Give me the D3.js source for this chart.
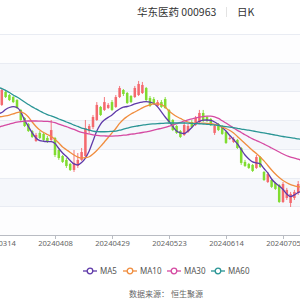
<!DOCTYPE html>
<html>
<head>
<meta charset="utf-8">
<script src="https://cdn.jsdelivr.net/npm/d3@7"></script>
<style>
  body { margin: 0; background: #fff; }
  svg { display: block; font-family: "Noto Sans CJK SC", "Noto Sans", sans-serif; }
</style>
</head>
<body>
<div id="chart"></div>
<script>
// trading days shown (the window is cut on both sides)
const dates = [
  "20240311","20240312","20240313","20240314","20240315","20240318","20240319","20240320","20240321","20240322",
  "20240325","20240326","20240327","20240328","20240329","20240401","20240402","20240403","20240408","20240409",
  "20240410","20240411","20240412","20240415","20240416","20240417","20240418","20240419","20240422","20240423",
  "20240424","20240425","20240426","20240429","20240430","20240506","20240507","20240508","20240509","20240510",
  "20240513","20240514","20240515","20240516","20240517","20240520","20240521","20240522","20240523","20240524",
  "20240527","20240528","20240529","20240530","20240531","20240603","20240604","20240605","20240606","20240607",
  "20240611","20240612","20240613","20240614","20240617","20240618","20240619","20240620","20240621","20240624",
  "20240625","20240626","20240627","20240628","20240701","20240702","20240703","20240704","20240705","20240708",
  "20240709","20240710","20240711","20240712"
];

const opens = [
  32.57, 32.85, 33.13, 33.68, 33.06, 33.96, 33.75, 33.61, 33.40, 32.71,
  32.15, 31.73, 31.24, 30.55, 31.11, 31.04, 30.76, 30.62, 30.76, 29.92,
  29.50, 29.23, 28.95, 28.53, 28.81, 29.23, 29.50, 31.24, 31.52, 32.01,
  32.92, 32.71, 32.85, 33.26, 32.92, 33.61, 34.10, 33.89, 33.68, 33.61,
  33.75, 33.89, 34.24, 33.54, 33.47, 32.99, 33.26, 33.47, 32.71, 32.01,
  31.59, 31.24, 30.97, 31.18, 31.87, 31.66, 31.87, 32.50, 32.22, 32.08,
  31.11, 31.73, 31.59, 31.18, 30.69, 30.48, 30.62, 30.06, 29.09, 28.95,
  28.88, 28.67, 29.43, 28.39, 27.69, 27.83, 27.62, 27.48, 26.30, 26.58,
  26.23, 26.58, 26.93, 27.41
];
const closes = [
  32.85, 33.13, 33.40, 33.96, 34.10, 33.61, 33.40, 33.26, 32.85, 32.01,
  31.59, 31.24, 30.83, 30.97, 30.76, 30.62, 30.48, 31.31, 29.57, 29.36,
  29.09, 28.81, 28.53, 29.02, 29.23, 29.78, 31.45, 31.59, 32.22, 33.06,
  32.36, 33.26, 33.06, 32.71, 33.61, 34.24, 33.82, 33.19, 33.26, 34.24,
  34.52, 34.45, 33.40, 32.99, 33.13, 33.26, 32.92, 32.85, 31.87, 31.31,
  31.11, 30.83, 31.66, 31.59, 31.52, 32.15, 32.50, 31.94, 31.94, 31.66,
  31.59, 31.31, 31.04, 30.41, 30.76, 30.69, 30.06, 29.02, 28.81, 28.67,
  28.46, 29.43, 28.74, 27.83, 28.25, 27.35, 27.21, 26.30, 27.55, 27.14,
  26.86, 27.00, 27.55, 27.69
];
const highs = [
  32.99, 33.26, 33.54, 34.10, 34.24, 34.10, 33.82, 33.68, 33.47, 32.78,
  32.22, 31.80, 31.31, 31.11, 31.24, 31.18, 30.90, 32.01, 30.83, 30.06,
  29.57, 29.36, 29.02, 29.92, 29.71, 30.06, 32.01, 31.73, 32.36, 33.26,
  32.99, 33.61, 33.19, 33.40, 33.75, 34.38, 34.17, 33.96, 33.75, 34.38,
  34.73, 34.66, 34.31, 33.68, 33.61, 33.40, 33.40, 33.61, 32.78, 32.08,
  31.66, 31.31, 31.87, 31.73, 32.01, 32.29, 32.71, 32.71, 32.29, 32.15,
  31.73, 31.80, 31.66, 31.24, 30.90, 30.83, 30.69, 30.13, 29.23, 29.02,
  28.95, 29.57, 29.50, 28.46, 28.39, 27.90, 27.69, 27.55, 27.69, 27.28,
  27.00, 27.14, 27.76, 27.83
];
const lows = [
  32.43, 32.71, 32.99, 33.54, 32.99, 33.54, 33.33, 33.19, 32.78, 31.94,
  31.52, 31.18, 30.76, 30.48, 30.69, 30.55, 30.41, 30.48, 29.43, 29.23,
  29.02, 28.67, 28.46, 28.39, 28.67, 29.16, 29.43, 31.11, 31.38, 31.94,
  32.29, 32.64, 32.78, 32.64, 32.85, 33.54, 33.68, 33.13, 33.19, 33.54,
  33.68, 33.82, 33.33, 32.92, 33.06, 32.92, 32.85, 32.78, 31.73, 31.24,
  31.04, 30.76, 30.90, 31.11, 31.45, 31.59, 31.80, 31.87, 31.87, 31.59,
  30.97, 31.24, 30.97, 30.34, 30.62, 30.41, 29.99, 28.88, 28.74, 28.60,
  28.39, 28.60, 28.67, 27.76, 27.62, 27.28, 27.14, 26.23, 26.23, 26.44,
  25.95, 26.44, 26.79, 27.28
];

const ma5 = [
  32.15, 32.22, 32.32, 32.43, 32.53, 32.74, 32.88, 32.94, 32.88, 32.57,
  32.01, 31.56, 31.11, 30.76, 30.58, 30.53, 30.51, 30.50, 30.37, 30.03,
  29.71, 29.47, 29.19, 28.95, 28.88, 29.05, 29.36, 29.85, 30.55, 31.24,
  31.73, 32.01, 32.19, 32.36, 32.60, 32.78, 32.90, 32.95, 33.02, 33.13,
  33.21, 33.26, 33.29, 33.26, 33.16, 32.92, 32.57, 32.22, 31.91, 31.56,
  31.24, 31.11, 31.07, 31.24, 31.49, 31.77, 31.91, 32.00, 32.01, 31.98,
  31.87, 31.70, 31.49, 31.24, 30.93, 30.65, 30.34, 29.96, 29.57, 29.30,
  29.09, 29.02, 28.95, 28.63, 28.32, 27.90, 27.62, 27.41, 27.17, 26.86,
  26.68, 26.79, 26.96, 27.03
];
const ma10 = [
  32.08, 32.13, 32.18, 32.22, 32.25, 32.29, 32.35, 32.43, 32.53, 32.58,
  32.46, 32.22, 31.87, 31.56, 31.31, 31.14, 31.00, 30.86, 30.65, 30.41,
  30.13, 29.94, 29.75, 29.57, 29.43, 29.36, 29.39, 29.45, 29.64, 29.89,
  30.17, 30.48, 30.79, 31.11, 31.42, 31.77, 32.05, 32.25, 32.43, 32.57,
  32.71, 32.85, 32.97, 33.07, 33.13, 33.14, 33.09, 32.92, 32.64, 32.43,
  32.25, 32.12, 31.98, 31.87, 31.80, 31.78, 31.78, 31.79, 31.78, 31.75,
  31.70, 31.63, 31.52, 31.42, 31.28, 31.11, 30.86, 30.62, 30.37, 30.13,
  29.89, 29.68, 29.43, 29.16, 28.84, 28.53, 28.25, 28.01, 27.80, 27.64,
  27.51, 27.43, 27.37, 27.33
];
const ma30 = [
  31.24, 31.31, 31.42, 31.50, 31.58, 31.66, 31.73, 31.80, 31.86, 31.90,
  31.93, 31.94, 31.94, 31.94, 31.93, 31.92, 31.91, 31.88, 31.82, 31.73,
  31.63, 31.55, 31.45, 31.35, 31.24, 31.15, 31.09, 31.04, 30.98, 30.94,
  30.91, 30.90, 30.89, 30.89, 30.90, 30.92, 30.95, 30.98, 31.02, 31.05,
  31.09, 31.14, 31.19, 31.24, 31.30, 31.37, 31.43, 31.50, 31.58, 31.66,
  31.75, 31.84, 31.94, 32.02, 32.09, 32.16, 32.21, 32.25, 32.28, 32.28,
  32.23, 32.12, 31.96, 31.80, 31.63, 31.45, 31.29, 31.14, 30.98, 30.83,
  30.69, 30.58, 30.46, 30.33, 30.20, 30.06, 29.92, 29.78, 29.64, 29.52,
  29.43, 29.36, 29.28, 29.20
];
const ma60 = [
  34.48, 34.41, 34.34, 34.27, 34.20, 34.07, 33.93, 33.75, 33.61, 33.44,
  33.26, 33.09, 32.92, 32.78, 32.64, 32.50, 32.39, 32.29, 32.19, 32.08,
  31.98, 31.87, 31.77, 31.66, 31.56, 31.45, 31.38, 31.31, 31.24, 31.20,
  31.19, 31.19, 31.20, 31.22, 31.24, 31.30, 31.37, 31.44, 31.51, 31.56,
  31.61, 31.65, 31.69, 31.72, 31.74, 31.76, 31.77, 31.79, 31.80, 31.80,
  31.80, 31.80, 31.80, 31.79, 31.77, 31.76, 31.75, 31.73, 31.71, 31.69,
  31.66, 31.63, 31.59, 31.55, 31.51, 31.47, 31.43, 31.38, 31.34, 31.30,
  31.25, 31.20, 31.15, 31.11, 31.06, 31.01, 30.96, 30.91, 30.86, 30.82,
  30.78, 30.74, 30.69, 30.66
];

const xTickLabels = ["20240314", "20240408", "20240429", "20240523", "20240614", "20240705"];
const yTicks = [24, 26, 28, 30, 32, 34, 36, 38];

const series = [
  { name: "MA5", values: ma5, color: "#5f3aa9" },
  { name: "MA10", values: ma10, color: "#f08d3e" },
  { name: "MA30", values: ma30, color: "#d54aa2" },
  { name: "MA60", values: ma60, color: "#2a9595" }
];

const upColor = "#f4696e";
const downColor = "#80dc30";

const width = 300, height = 300;

const svg = d3.select("#chart").append("svg")
  .attr("width", width)
  .attr("height", height);

// category axis runs past both edges of the picture
const x = d3.scalePoint()
  .domain(dates)
  .range([-13.4, 302]);

const y = d3.scaleLinear()
  .domain([24, 38])
  .range([235, 34]);

// alternating split areas
const bands = d3.pairs(yTicks);
svg.append("g")
  .selectAll("rect")
  .data(bands)
  .enter().append("rect")
  .attr("x", 0)
  .attr("width", width)
  .attr("y", d => y(d[1]))
  .attr("height", d => y(d[0]) - y(d[1]))
  .attr("fill", (d, i) => i % 2 ? "#f5f7fb" : "#fdfdfe");

// split lines
svg.append("g")
  .selectAll("line")
  .data(yTicks.slice(1))
  .enter().append("line")
  .attr("x1", 0).attr("x2", width)
  .attr("y1", d => Math.round(y(d)) + 0.5)
  .attr("y2", d => Math.round(y(d)) + 0.5)
  .attr("stroke", "#e9ecf3");

// x axis
const xAxis = d3.axisBottom(x)
  .tickValues(xTickLabels)
  .tickSize(4)
  .tickPadding(2);

const gx = svg.append("g")
  .attr("transform", `translate(0,${y(24)})`)
  .call(xAxis);
gx.select(".domain").attr("stroke", "#b9bcc3");
gx.selectAll(".tick line").attr("stroke", "#b9bcc3");
gx.selectAll(".tick text")
  .attr("fill", "#666")
  .style("font-size", "7.6px")
  .style("font-family", "'Noto Sans', sans-serif");

// candles
const bodyW = x.step() * 0.66;
const candles = svg.append("g")
  .selectAll("g")
  .data(dates.map((d, i) => ({ date: d, o: opens[i], c: closes[i], h: highs[i], l: lows[i] })))
  .enter().append("g");

candles.append("line")
  .attr("x1", d => x(d.date)).attr("x2", d => x(d.date))
  .attr("y1", d => y(d.h)).attr("y2", d => y(d.l))
  .attr("stroke", d => d.c >= d.o ? upColor : downColor)
  .attr("stroke-width", 0.9);

candles.append("rect")
  .attr("x", d => x(d.date) - bodyW / 2)
  .attr("width", bodyW)
  .attr("y", d => y(Math.max(d.o, d.c)))
  .attr("height", d => Math.max(1, Math.abs(y(d.o) - y(d.c))))
  .attr("fill", d => d.c >= d.o ? upColor : downColor);

// moving averages
const line = d3.line()
  .x((d, i) => x(dates[i]))
  .y(d => y(d))
  .curve(d3.curveMonotoneX);

svg.append("g")
  .selectAll("path")
  .data(series)
  .enter().append("path")
  .attr("d", d => line(d.values))
  .attr("fill", "none")
  .attr("stroke", d => d.color)
  .attr("stroke-width", 1.3);

// title
const title = svg.append("g").attr("fill", "#333").style("font-size", "10.5px");
title.append("text")
  .attr("x", 137).attr("y", 16)
  .text("华东医药 000963");
title.append("line")
  .attr("x1", 226.5).attr("x2", 226.5)
  .attr("y1", 7).attr("y2", 17)
  .attr("stroke", "#e3e3e3");
title.append("text")
  .attr("x", 237).attr("y", 16)
  .text("日K");

// legend
const legend = svg.append("g").style("font-size", "8px");
const itemX = [83, 123, 167, 211];
const items = legend.selectAll("g")
  .data(series)
  .enter().append("g")
  .attr("transform", (d, i) => `translate(${itemX[i]},271)`);
items.append("line")
  .attr("x1", 0).attr("x2", 14)
  .attr("stroke", d => d.color)
  .attr("stroke-width", 1.3);
items.append("circle")
  .attr("cx", 7).attr("r", 2.8)
  .attr("fill", "#fff")
  .attr("stroke", d => d.color)
  .attr("stroke-width", 1.3);
items.append("text")
  .attr("x", 17).attr("dy", "0.35em")
  .attr("fill", "#555")
  .style("font-family", "'Noto Sans', sans-serif")
  .text(d => d.name);

// source note
svg.append("text")
  .attr("x", 166).attr("y", 297)
  .attr("text-anchor", "middle")
  .attr("fill", "#666")
  .style("font-size", "8px")
  .text("数据来源： 恒生聚源");
</script>
</body>
</html>
